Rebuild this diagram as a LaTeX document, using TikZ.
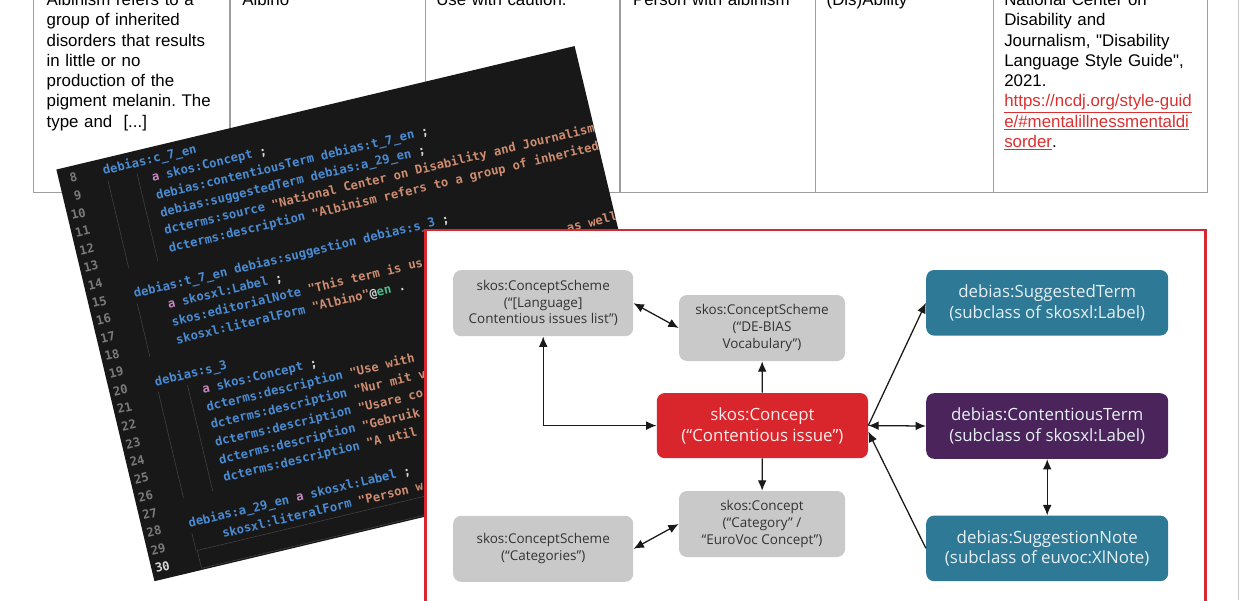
\documentclass[tikz,border=0pt]{standalone}
\usepackage{fontspec}
\newfontfamily\tablefont{Liberation Sans}
\newfontfamily\diagfont{Open Sans}
\setmonofont{DejaVu Sans Mono}
\usepackage{xcolor}
\usepackage{tikz}
\usetikzlibrary{arrows.meta,positioning}

\definecolor{rulegray}{RGB}{158,158,158}
\definecolor{linkred}{RGB}{218,48,48}
\definecolor{codebg}{RGB}{24,24,24}
\definecolor{codenum}{RGB}{122,122,122}
\definecolor{codeblue}{RGB}{74,140,212}
\definecolor{codepink}{RGB}{197,134,192}
\definecolor{codestr}{RGB}{206,140,112}
\definecolor{codegreen}{RGB}{78,190,140}
\definecolor{codepunct}{RGB}{212,212,212}
\definecolor{frameRed}{RGB}{214,40,46}
\definecolor{boxgray}{RGB}{201,201,201}
\definecolor{boxred}{RGB}{216,38,44}
\definecolor{boxteal}{RGB}{46,121,150}
\definecolor{boxpurple}{RGB}{74,36,90}

\newcommand{\cdname}[1]{\textcolor{codeblue}{#1}}
\newcommand{\cdkw}[1]{\textcolor{codepink}{#1}}
\newcommand{\cdstr}[1]{\textcolor{codestr}{#1}}

\begin{document}
\frenchspacing
\begin{tikzpicture}[
  x=1cm,
  y=1cm,
  >={Latex[length=2.6mm,width=2.2mm]},
  rule/.style={draw=rulegray, line width=0.9pt},
  cell/.style={anchor=base west, align=left, inner sep=0pt, text width=5.2cm,
    font=\tablefont\fontsize{12}{14.4}\selectfont},
  code/.style={anchor=mid west, inner sep=0pt, transform shape, text=codepunct,
    font=\ttfamily\bfseries\fontsize{8.7}{10}\selectfont},
  lineno/.style={code, anchor=mid east, text=codenum},
  guide/.style={draw=white!18!codebg, line width=0.4pt},
  scheme/.style={fill=boxgray, rounded corners=2mm, text=black!80,
    minimum width=45mm, minimum height=16.5mm, align=center, inner sep=1pt,
    font=\diagfont\fontsize{9.6}{11.9}\selectfont},
  issuebox/.style={fill=boxred, rounded corners=2mm, text=red!8!white,
    minimum width=52.8mm, minimum height=16.3mm, align=center, inner sep=1pt,
    font=\diagfont\fontsize{12}{14.7}\selectfont},
  termbox/.style={rounded corners=2mm, text=white!88!boxteal,
    minimum width=60.5mm, minimum height=16.4mm, align=center, inner sep=1pt,
    font=\diagfont\fontsize{12}{14.8}\selectfont},
  link/.style={line width=0.9pt, draw=black!90}
]
\useasboundingbox (0,0) rectangle (31,15);

% table behind the screenshot
\draw[rule] (0.83,15.2) -- (0.83,10.18) -- (30.18,10.18) -- (30.18,15.2);
\foreach \x in {5.75,10.63,15.50,20.38,24.83}
  \draw[rule] (\x,15.2) -- (\x,10.18);

\node[cell] (desc) at (1.16,14.86)
  {Albinism refers to a\\group of inherited\\disorders that results\\in little or no\\
   production of the\\pigment melanin. The\\type and\ \ [...]};
\node[cell] (term) at (6.05,14.86) {Albino};
\node[cell] (advice) at (10.90,14.86) {Use with caution.};
\node[cell] (alt) at (15.82,14.86) {Person with albinism};
\node[cell] (topic) at (20.66,14.86) {(Dis)Ability};
\node[cell] (source) at (25.10,14.86)
  {National Center on\\Disability and\\Journalism, "Disability\\Language Style Guide",\\2021.\\
   \textcolor{linkred}{\underline{https://ncdj.org/style-guid}}\\
   \textcolor{linkred}{\underline{e/\#mentalillnessmentaldi}}\\
   \textcolor{linkred}{\underline{sorder}}.};

% code editor screenshot
\begin{scope}[shift={(2.575,10.70)}, rotate=13.4]
  \fill[codebg] (-1.12,-10.25) rectangle (12.20,0.33);
  \clip (-1.12,-10.25) rectangle (12.20,0.33);
  \foreach \n in {8,...,29}
    \node[lineno] (n\n) at (-0.65,{-0.4535*(\n-8)}) {\n};
  \node[lineno, text=white!85!black] (n30) at (-0.65,-9.98) {30};

  \draw[guide] (0.07,-0.23) -- (0.07,-2.49);
  \draw[guide] (0.82,-0.23) -- (0.82,-2.49);
  \draw[guide] (0.07,-3.40) -- (0.07,-4.76);
  \draw[guide] (0.07,-5.67) -- (0.07,-8.39);
  \draw[guide] (0.82,-5.67) -- (0.82,-8.39);
  \draw[guide] (0.07,-9.30) -- (0.07,-9.75);
  \draw[guide] (0.10,-9.75) rectangle (12.30,-10.21);

  \node[code] (l8) at (0.00,0.00) {\cdname{debias:c\_7\_en}};
  \node[code] (l9) at (1.15,-0.45) {\cdkw{a} \cdname{skos:Concept} ;};
  \node[code] (l10) at (1.15,-0.91) {\cdname{debias:contentiousTerm} \cdname{debias:t\_7\_en} ;};
  \node[code] (l11) at (1.15,-1.36) {\cdname{debias:suggestedTerm} \cdname{debias:a\_29\_en} ;};
  \node[code] (l12) at (1.15,-1.81)
    {\cdname{dcterms:source} \cdstr{"National Center on Disability and Journalism}};
  \node[code] (l13) at (1.15,-2.27)
    {\cdname{dcterms:description} \cdstr{"Albinism refers to a group of inherited}};
  \node[code] (l15) at (0.04,-3.17)
    {\cdname{debias:t\_7\_en} \cdname{debias:suggestion} \cdname{debias:s\_3} ;};
  \node[code] (l16) at (0.80,-3.63) {\cdkw{a} \cdname{skosxl:Label} ;};
  \node[code] (l17) at (0.80,-4.08) {\cdname{skos:editorialNote} \cdstr{"This term is us}};
  \node[code] (l17b) at (10.95,-4.08) {\cdstr{as well}};
  \node[code] (l18) at (0.80,-4.54)
    {\cdname{skosxl:literalForm} \cdstr{"Albino"}@\textcolor{codegreen}{en} .};
  \node[code] (l20) at (0.04,-5.44) {\cdname{debias:s\_3}};
  \node[code] (l21) at (1.15,-5.90) {\cdkw{a} \cdname{skos:Concept} ;};
  \node[code] (l22) at (1.15,-6.35) {\cdname{dcterms:description} \cdstr{"Use with}};
  \node[code] (l23) at (1.15,-6.80) {\cdname{dcterms:description} \cdstr{"Nur mit v}};
  \node[code] (l24) at (1.15,-7.26) {\cdname{dcterms:description} \cdstr{"Usare co}};
  \node[code] (l25) at (1.15,-7.71) {\cdname{dcterms:description} \cdstr{"Gebruik}};
  \node[code] (l26) at (1.15,-8.16) {\cdname{dcterms:description} \cdstr{"A util}};
  \node[code] (l28) at (0.04,-9.07)
    {\cdname{debias:a\_29\_en} \cdkw{a} \cdname{skosxl:Label} ;};
  \node[code] (l29) at (0.80,-9.52) {\cdname{skosxl:literalForm} \cdstr{"Person w}};
\end{scope}

% model diagram
\draw[draw=frameRed, line width=2.1pt, fill=white] (10.63,-0.50) rectangle (30.13,9.25);

\node[scheme] (langlist) at (13.58,7.42)
  {skos:ConceptScheme\\(“[Language]\\Contentious issues list”)};
\node[scheme, minimum width=41.5mm] (vocab) at (19.05,6.80)
  {skos:ConceptScheme\\(“DE-BIAS\\Vocabulary”)};
\node[issuebox] (issue) at (19.06,4.36) {skos:Concept\\(“Contentious issue”)};
\node[scheme, minimum width=41.5mm] (category) at (19.05,1.90)
  {skos:Concept\\(“Category” /\\“EuroVoc Concept”)};
\node[scheme] (categories) at (13.58,1.28) {skos:ConceptScheme\\(“Categories”)};
\node[termbox, fill=boxteal] (suggested) at (26.18,7.43)
  {debias:SuggestedTerm\\(subclass of skosxl:Label)};
\node[termbox, fill=boxpurple] (contentious) at (26.18,4.35)
  {debias:ContentiousTerm\\(subclass of skosxl:Label)};
\node[termbox, fill=boxteal] (suggnote) at (26.18,1.29)
  {debias:SuggestionNote\\(subclass of euvoc:XlNote)};

\draw[link, <->] (langlist.south) |- (issue.west);
\draw[link, ->] (issue) -- (vocab);
\draw[link, <->] (langlist.east) -- (vocab.west);
\draw[link, ->] (issue) -- (category);
\draw[link, <->] (categories.east) -- (category.west);
\draw[link, ->] (issue.east) -- (suggested.west);
\draw[link, <->] (issue.east) -- (contentious.west);
\draw[link, ->] (suggnote.west) -- ([yshift=-1.5mm]issue.east);
\draw[link, <->] (contentious) -- (suggnote);

\draw[draw=black!22, line width=0.6pt] (30.97,0) -- (30.97,15);

\end{tikzpicture}
\end{document}
